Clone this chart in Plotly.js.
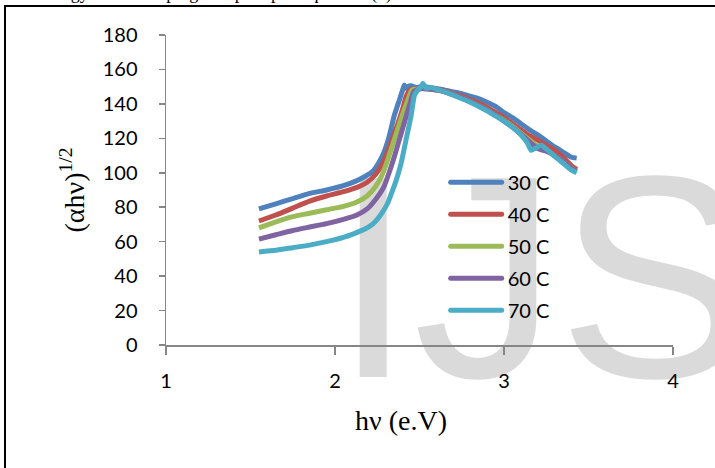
<!DOCTYPE html>
<html>
<head>
<meta charset="utf-8">
<script src="https://cdn.plot.ly/plotly-3.0.1.min.js"></script>
<style>
  html, body { margin: 0; padding: 0; background: #ffffff; overflow: hidden; }
  #wrap { position: relative; width: 715px; height: 468px; overflow: hidden; background: #fff; }
  #topline { position: absolute; left: 40px; top: -17px; font-family: "Liberation Serif", serif; font-size: 18px; color: #000; white-space: nowrap; word-spacing: 3px; }
  #frame { position: absolute; left: 4px; top: 5px; width: 730px; height: 480px; border: 2.5px solid #000; box-sizing: border-box; background: transparent; }
  #watermark { position: absolute; left: 333px; top: 132px; font-family: "Liberation Sans", Arial, sans-serif; font-size: 289px; line-height: 289px; color: #dadada; white-space: nowrap; }
  #chart { position: absolute; left: 0; top: 0; width: 715px; height: 468px; }
</style>
</head>
<body>
<div id="wrap">
  <div id="topline">energy of the doping samples per equation (1)</div>
  <div id="frame"></div>
  <div id="watermark">IJS</div>
  <div id="chart"></div>
</div>
<script>
// ---- data ----
const seriesNames = ["30 C", "40 C", "50 C", "60 C", "70 C"];

const x30 = [1.55,1.65,1.75,1.85,1.95,2.05,2.12,2.18,2.22,2.26,2.29,2.32,2.35,2.38,2.40,2.41,2.42,2.43,2.45,2.48,2.52,2.56,2.60,2.65,2.70,2.75,2.80,2.85,2.90,2.95,3.00,3.05,3.10,3.15,3.20,3.25,3.30,3.35,3.40,3.43];
const y30 = [79,82,85,88,90,92.5,95,98,100.5,106,112,121,133,142,148,151,149,150,150.5,149.5,150,149.5,149,148,147,146,144.5,143,141,138.5,135,132,128.5,125,122,118.5,115,112,109,108.5];

const x40 = [1.55,1.65,1.75,1.85,1.95,2.05,2.13,2.19,2.24,2.28,2.31,2.34,2.37,2.40,2.42,2.44,2.46,2.50,2.55,2.60,2.65,2.70,2.75,2.80,2.85,2.90,2.95,3.00,3.05,3.10,3.15,3.20,3.25,3.30,3.35,3.40,3.43];
const y40 = [72,75.5,79.5,83.5,86.5,89,91.5,94.5,99,105,112,120,128,137,144,148,148.5,149,149,148.5,147.5,146,144.5,142.5,140.5,138,135,132,128.5,125,121.5,119,116,113,109,104,102];

const x50 = [1.55,1.65,1.75,1.85,1.95,2.05,2.13,2.19,2.24,2.28,2.31,2.34,2.37,2.40,2.43,2.455,2.48,2.52,2.56,2.60,2.65,2.70,2.75,2.80,2.85,2.90,2.95,3.00,3.05,3.10,3.15,3.20,3.25,3.30,3.35,3.40,3.43];
const y50 = [68,71.5,74.5,76.5,78.5,80.5,83,86.5,92,99,107,116,125,134,142,148,148.5,149,148.5,148,147,145.5,143.5,141.5,139,136.5,133.5,130.5,127,123,119,115.5,113,110,106.5,102.5,101];

const x60 = [1.55,1.65,1.75,1.85,1.95,2.05,2.13,2.19,2.24,2.29,2.32,2.35,2.38,2.41,2.44,2.465,2.49,2.52,2.56,2.60,2.65,2.70,2.75,2.80,2.85,2.90,2.95,3.00,3.05,3.10,3.15,3.20,3.25,3.30,3.35,3.40,3.43];
const y60 = [61.5,64,66.5,68.5,70.5,73,75.5,79,84.5,92,100,109,119,129,139,147,148.5,149,148.5,148,147,145.5,143.5,141.5,139,136.5,133.5,130,126.5,122.5,118,114,112.5,110,106.5,102.5,101];

const x70 = [1.55,1.65,1.75,1.85,1.95,2.05,2.12,2.18,2.22,2.25,2.28,2.31,2.33,2.36,2.39,2.42,2.45,2.47,2.49,2.51,2.52,2.54,2.57,2.60,2.65,2.70,2.75,2.80,2.85,2.90,2.95,3.00,3.05,3.10,3.14,3.16,3.19,3.22,3.26,3.30,3.35,3.40,3.43];
const y70 = [54,55,56.5,58,60,62.5,65,67.5,70,73,77,82,87,95,105,119,133,145,148,150,152,149,149.5,148.5,147,145,143,141,138.5,136,133,130,126.5,122,117,113,114.5,116,113,109.5,105.5,101.5,100];

const xTickVals = [1, 2, 3, 4];
const yTickVals = [0, 20, 40, 60, 80, 100, 120, 140, 160, 180];
const xTitle = "hν (e.V)";
const yTitle = "(αhν)<sup>1/2</sup>";

// ---- styling ----
const colors = ["#4F81BD", "#C0504D", "#9BBB59", "#8064A2", "#4BACC6"];
const xs = [x30, x40, x50, x60, x70];
const ys = [y30, y40, y50, y60, y70];

const traces = seriesNames.map((name, i) => ({
  type: "scatter",
  mode: "lines",
  name: name,
  x: xs[i],
  y: ys[i],
  legendgroup: "g" + i,
  line: { color: colors[i], width: 5, shape: "spline", smoothing: 0.5 },
  hoverinfo: "skip"
}));

const tickFont = { family: "Lato, 'Open Sans', sans-serif", size: 20, color: "#000" };
const axisGrey = "#868686";

const layout = {
  width: 715,
  height: 468,
  margin: { l: 166, r: 42, t: 35, b: 123 },
  paper_bgcolor: "rgba(0,0,0,0)",
  plot_bgcolor: "rgba(0,0,0,0)",
  showlegend: true,
  legend: {
    x: 0.5595, y: 0.588, xanchor: "left", yanchor: "top",
    bgcolor: "rgba(0,0,0,0)",
    font: { family: "Lato, 'Open Sans', sans-serif", size: 20, color: "#000" },
    tracegroupgap: 3,
    itemwidth: 48
  },
  xaxis: {
    range: [1, 4],
    tickvals: xTickVals,
    ticktext: xTickVals.map(String),
    showgrid: false,
    zeroline: false,
    showline: true,
    linecolor: axisGrey,
    linewidth: 1.5,
    ticks: "outside",
    ticklen: 8,
    tickwidth: 1.5,
    tickcolor: axisGrey,
    tickfont: tickFont,
    ticklabelstandoff: 9
  },
  yaxis: {
    range: [0, 180],
    tickvals: yTickVals,
    ticktext: yTickVals.map(String),
    showgrid: false,
    zeroline: false,
    showline: true,
    linecolor: axisGrey,
    linewidth: 1.5,
    ticks: "outside",
    ticklen: 6,
    tickwidth: 1.5,
    tickcolor: axisGrey,
    tickfont: tickFont,
    ticklabelstandoff: 17,
    title: { text: yTitle, font: { family: "'Liberation Serif', serif", size: 28, color: "#000" }, standoff: 10 }
  },
  annotations: [{
    xref: "paper", yref: "paper",
    x: 0.4635, y: -0.242,
    xanchor: "center", yanchor: "middle",
    text: xTitle, showarrow: false,
    font: { family: "'Liberation Serif', serif", size: 28, color: "#000" }
  }]
};

Plotly.newPlot("chart", traces, layout, { displayModeBar: false, staticPlot: true }).then(() => {
  // lengthen the legend line samples to match the reference
  document.querySelectorAll("#chart .legend [clip-path]").forEach(el => el.removeAttribute("clip-path"));
  document.querySelectorAll("#chart .legend .legendlines path").forEach(p => {
    p.setAttribute("d", "M1,0h51");
    p.style.strokeLinecap = "round";
  });
});
</script>
</body>
</html>
